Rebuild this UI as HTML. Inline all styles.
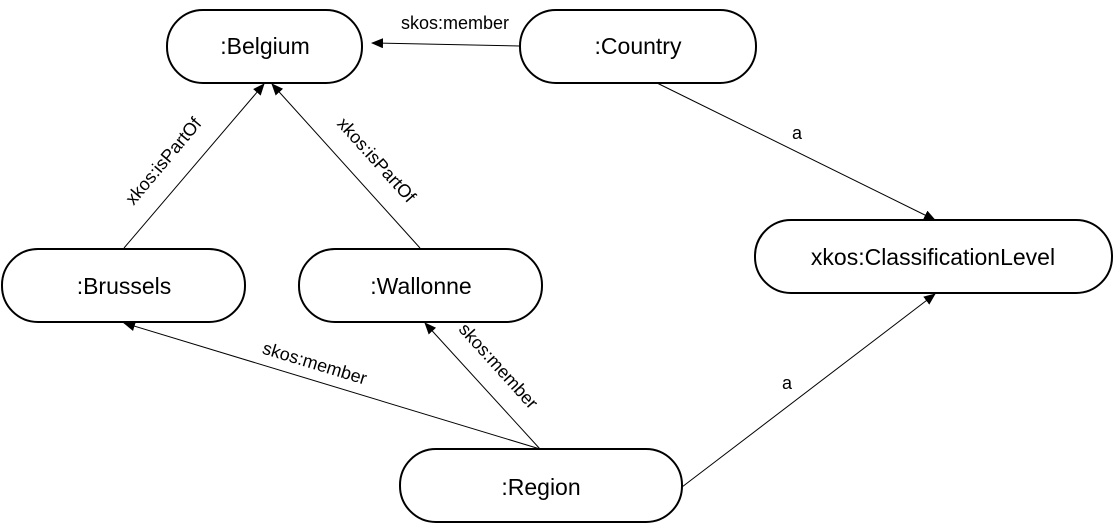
<!DOCTYPE html>
<html><head><meta charset="utf-8"><style>body{margin:0;background:#fff}svg{display:block}</style></head>
<body>
<svg width="1115" height="523" viewBox="0 0 1115 523" xmlns="http://www.w3.org/2000/svg" font-family="Liberation Sans, sans-serif">
<defs><marker id="a" markerWidth="12" markerHeight="10" refX="11" refY="5" orient="auto" markerUnits="userSpaceOnUse"><path d="M0,0 L12,5 L0,10 z" fill="#000"/></marker></defs>
<g fill="#fff" stroke="#000" stroke-width="2">
<rect x="167" y="10" width="195" height="73" rx="36"/>
<rect x="520" y="10" width="236" height="73" rx="36"/>
<rect x="2" y="249" width="243" height="73" rx="36"/>
<rect x="299" y="249" width="243" height="73" rx="36"/>
<rect x="755" y="220" width="357" height="73" rx="36"/>
<rect x="400" y="449" width="282" height="73" rx="36"/>
</g>
<g stroke="#000" stroke-width="1" marker-end="url(#a)">
<line x1="520" y1="46" x2="372" y2="43"/>
<line x1="124" y1="248" x2="264" y2="84"/>
<line x1="420" y1="248" x2="272" y2="84"/>
<line x1="657" y1="83" x2="935" y2="220"/>
<line x1="682" y1="487" x2="935" y2="294"/>
<line x1="540" y1="449" x2="124" y2="323"/>
<line x1="540" y1="449" x2="425" y2="323"/>
</g>
<g font-size="23" text-anchor="middle" fill="#000">
<text x="265" y="54">:Belgium</text>
<text x="638" y="54">:Country</text>
<text x="124" y="294">:Brussels</text>
<text x="421" y="294">:Wallonne</text>
<text x="933" y="265">xkos:ClassificationLevel</text>
<text x="541" y="495">:Region</text>
</g>
<g font-size="18" text-anchor="middle" fill="#000">
<text x="455" y="29">skos:member</text>
<text x="797" y="139">a</text>
<text x="787" y="389">a</text>
<text transform="translate(168,165) rotate(-50)">xkos:isPartOf</text>
<text transform="translate(372,164) rotate(48)">xkos:isPartOf</text>
<text transform="translate(313,369) rotate(17)">skos:member</text>
<text transform="translate(494,370) rotate(48)">skos:member</text>
</g>
</svg>
</body></html>
